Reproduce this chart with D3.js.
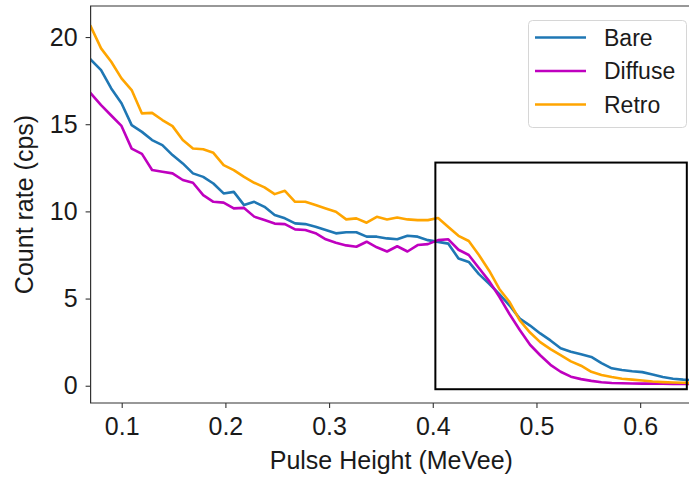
<!DOCTYPE html>
<html>
<head>
<meta charset="utf-8">
<script src="https://cdnjs.cloudflare.com/ajax/libs/d3/7.8.5/d3.min.js"></script>
<style>
  body { margin: 0; background: #fff; }
  text { font-family: "Liberation Sans", Arial, sans-serif; fill: #1a1a1a; }
</style>
</head>
<body>
<div id="graph"></div>
<script>
// pulse height bin centres (MeVee)
var pulseHeight = [0.0702, 0.0801, 0.0899, 0.0998, 0.1096, 0.1195, 0.1293, 0.1392, 0.1490, 0.1589,
  0.1687, 0.1786, 0.1884, 0.1983, 0.2081, 0.2180, 0.2278, 0.2377, 0.2475, 0.2574,
  0.2672, 0.2771, 0.2869, 0.2968, 0.3066, 0.3165, 0.3263, 0.3362, 0.3460, 0.3559,
  0.3657, 0.3756, 0.3854, 0.3953, 0.4051, 0.4150, 0.4248, 0.4347, 0.4445, 0.4544,
  0.4642, 0.4741, 0.4839, 0.4938, 0.5036, 0.5135, 0.5233, 0.5332, 0.5430, 0.5529,
  0.5627, 0.5726, 0.5824, 0.5923, 0.6021, 0.6120, 0.6218, 0.6317, 0.6415, 0.6514];

// count rates (cps)
var bare = [18.7, 18.1, 17.05, 16.2, 14.95, 14.56, 14.09, 13.8, 13.23, 12.75,
  12.18, 11.98, 11.6, 11.03, 11.12, 10.36, 10.55, 10.26, 9.79, 9.6,
  9.31, 9.27, 9.12, 8.93, 8.74, 8.8, 8.8, 8.55, 8.55, 8.45,
  8.4, 8.6, 8.55, 8.35, 8.25, 8.15, 7.3, 7.1, 6.4, 5.85,
  5.25, 4.6, 3.85, 3.45, 3.0, 2.6, 2.15, 1.95, 1.8, 1.65,
  1.3, 1.0, 0.9, 0.83, 0.78, 0.65, 0.5, 0.4, 0.35, 0.32];

var diffuse = [16.77, 16.1, 15.5, 14.9, 13.6, 13.3, 12.37, 12.27, 12.18, 11.8,
  11.64, 10.93, 10.55, 10.5, 10.17, 10.2, 9.7, 9.5, 9.3, 9.27,
  8.97, 8.93, 8.75, 8.4, 8.2, 8.05, 7.97, 8.26, 7.94, 7.7,
  8.0, 7.7, 8.07, 8.12, 8.35, 8.4, 7.8, 7.5, 6.75, 6.0,
  5.1, 4.1, 3.2, 2.35, 1.75, 1.2, 0.8, 0.52, 0.38, 0.28,
  0.2, 0.16, 0.14, 0.13, 0.12, 0.12, 0.11, 0.1, 0.1, 0.1];

var retro = [20.6, 19.35, 18.58, 17.63, 16.96, 15.62, 15.65, 15.24, 14.89, 14.09,
  13.61, 13.56, 13.36, 12.65, 12.37, 11.98, 11.64, 11.38, 10.99, 11.18,
  10.55, 10.55, 10.36, 10.17, 9.98, 9.54, 9.6, 9.35, 9.69, 9.54,
  9.65, 9.54, 9.5, 9.5, 9.62, 9.1, 8.6, 8.3, 7.5, 6.6,
  5.55, 4.8, 3.75, 3.05, 2.5, 2.1, 1.75, 1.4, 1.15, 0.8,
  0.62, 0.5, 0.4, 0.35, 0.3, 0.24, 0.21, 0.19, 0.17, 0.16];

var seriesNames = ["Bare", "Diffuse", "Retro"];
var seriesColors = ["#1f77b4", "#bf00bf", "#ffa500"];

var xTicks = [0.1, 0.2, 0.3, 0.4, 0.5, 0.6];
var yTicks = [0, 5, 10, 15, 20];

// zoom box drawn on the plot (data coords)
var boxX = [0.4025, 0.645];
var boxY = [-0.2, 12.8];

var W = 689, H = 478;
var margin = { left: 90.6, top: 6, right: 692, bottom: 403 };

var svg = d3.select("#graph").append("svg")
  .attr("width", W).attr("height", H);

var x = d3.scaleLinear().domain([0.07, 0.65]).range([margin.left, margin.right]);
var y = d3.scaleLinear().domain([-0.99, 21.78]).range([margin.bottom, margin.top]);

svg.append("defs").append("clipPath").attr("id", "clip")
  .append("rect").attr("x", margin.left).attr("y", margin.top)
  .attr("width", margin.right - margin.left).attr("height", margin.bottom - margin.top);

var series = [bare, diffuse, retro];
var line = d3.line()
  .x(function (d, i) { return x(pulseHeight[i]); })
  .y(function (d) { return y(d); });

var plot = svg.append("g").attr("clip-path", "url(#clip)");
series.forEach(function (s, k) {
  plot.append("path")
    .datum(s)
    .attr("d", line)
    .attr("fill", "none")
    .attr("stroke", seriesColors[k])
    .attr("stroke-width", 2.6)
    .attr("stroke-linejoin", "round")
    .attr("stroke-linecap", "square");
});

// black box
svg.append("rect")
  .attr("x", x(boxX[0])).attr("y", y(boxY[1]))
  .attr("width", x(boxX[1]) - x(boxX[0]))
  .attr("height", y(boxY[0]) - y(boxY[1]))
  .attr("fill", "none").attr("stroke", "#000").attr("stroke-width", 2);

// axes
var xAxis = svg.append("g").attr("transform", "translate(0," + margin.bottom + ")")
  .call(d3.axisBottom(x).tickValues(xTicks).tickSize(5).tickPadding(9)
    .tickFormat(d3.format(".1f")));
var yAxis = svg.append("g").attr("transform", "translate(" + margin.left + ",0)")
  .call(d3.axisLeft(y).tickValues(yTicks).tickSize(5).tickPadding(8));

[xAxis, yAxis].forEach(function (a) {
  a.select(".domain").remove();
  a.selectAll(".tick line").attr("stroke", "#333").attr("stroke-width", 1.1);
  a.selectAll(".tick text").attr("font-size", "25px")
    .attr("font-family", "'Liberation Sans', Arial, sans-serif").attr("fill", "#1a1a1a");
});

// spines (left, bottom, top)
svg.append("path")
  .attr("d", "M" + (margin.right + 5) + "," + margin.top + "H" + margin.left +
    "V" + margin.bottom + "H" + (margin.right + 5))
  .attr("fill", "none").attr("stroke", "#333").attr("stroke-width", 1.2);

// axis labels
svg.append("text")
  .attr("x", (margin.left + margin.right) / 2).attr("y", 469)
  .attr("text-anchor", "middle").attr("font-size", "25px")
  .text("Pulse Height (MeVee)");

svg.append("text")
  .attr("transform", "translate(33," + (margin.top + margin.bottom) / 2 + ") rotate(-90)")
  .attr("text-anchor", "middle").attr("font-size", "25px")
  .text("Count rate (cps)");

// legend
var lg = svg.append("g");
lg.append("rect")
  .attr("x", 528.5).attr("y", 20.5).attr("width", 158).attr("height", 107)
  .attr("rx", 4).attr("fill", "#fff").attr("fill-opacity", 0.8)
  .attr("stroke", "#d6d6d6").attr("stroke-width", 1);
seriesNames.forEach(function (n, k) {
  var yy = 37.5 + k * 33.5;
  lg.append("line").attr("x1", 535).attr("x2", 586).attr("y1", yy).attr("y2", yy)
    .attr("stroke", seriesColors[k]).attr("stroke-width", 2.6);
  lg.append("text").attr("x", 604).attr("y", yy).attr("dy", "0.36em")
    .attr("font-size", "23px").text(n);
});
</script>
</body>
</html>
